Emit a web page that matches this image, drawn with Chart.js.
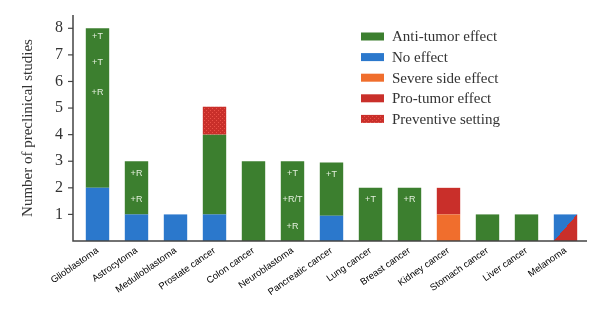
<!DOCTYPE html>
<html>
<head>
<meta charset="utf-8">
<script src="https://cdn.jsdelivr.net/npm/chart.js@4.4.0/dist/chart.umd.min.js"></script>
<style>
  html, body { margin: 0; padding: 0; background: #fff; }
</style>
</head>
<body>
<canvas id="chart" width="600" height="321"></canvas>
<script>
// Categories and stacked series (bottom to top)
const categories = ['Glioblastoma', 'Astrocytoma', 'Medulloblastoma', 'Prostate cancer', 'Colon cancer',
    'Neuroblastoma', 'Pancreatic cancer', 'Lung cancer', 'Breast cancer', 'Kidney cancer',
    'Stomach cancer', 'Liver cancer', 'Melanoma'];
const noEffect   = [2, 1, 1, 1, 0, 0, 0.95, 0, 0, 0, 0, 0, 1];
const severeSide = [0, 0, 0, 0, 0, 0, 0, 0, 0, 1, 0, 0, 0];
const antiTumor  = [6, 2, 0, 3, 3, 3, 2, 2, 2, 0, 1, 1, 0];
const proTumor   = [0, 0, 0, 0, 0, 0, 0, 0, 0, 1, 0, 0, 0];
const preventive = [0, 0, 0, 1.05, 0, 0, 0, 0, 0, 0, 0, 0, 0];
const splitCategory = 'Melanoma'; // half no effect, half pro-tumor (diagonal)

// Notes written inside the bars: [category, value, text]
const barNotes = [
    ['Glioblastoma', 7.7, '+T'], ['Glioblastoma', 6.7, '+T'], ['Glioblastoma', 5.6, '+R'],
    ['Astrocytoma', 2.55, '+R'], ['Astrocytoma', 1.55, '+R'],
    ['Neuroblastoma', 2.55, '+T'], ['Neuroblastoma', 1.55, '+R/T'], ['Neuroblastoma', 0.55, '+R'],
    ['Pancreatic cancer', 2.5, '+T'],
    ['Lung cancer', 1.55, '+T'], ['Breast cancer', 1.55, '+R']
];
const yTicks = [1, 2, 3, 4, 5, 6, 7, 8];
const legendOrder = ['Anti-tumor effect', 'No effect', 'Severe side effect', 'Pro-tumor effect', 'Preventive setting'];

const GREEN = '#3c7f2f';
const BLUE = '#2b78cc';
const ORANGE = '#f06e2d';
const RED = '#c92f2a';
const SERIF = '"Liberation Serif", "Times New Roman", serif';
const SANS = '"Liberation Sans", Arial, sans-serif';

const canvas = document.getElementById('chart');
const ctx2d = canvas.getContext('2d');

// dotted red pattern for the preventive setting
const tile = document.createElement('canvas');
tile.width = 4; tile.height = 4;
const t = tile.getContext('2d');
t.fillStyle = RED; t.fillRect(0, 0, 4, 4);
t.fillStyle = 'rgba(238,84,74,0.9)';
t.fillRect(0, 0, 1, 1); t.fillRect(2, 2, 1, 1);
const PREVENTIVE_FILL = ctx2d.createPattern(tile, 'repeat');

function noEffectColor(ctx) {
    if (ctx.type !== 'data' || categories[ctx.dataIndex] !== splitCategory) return BLUE;
    const chart = ctx.chart;
    const xs = chart.scales.x, ys = chart.scales.y;
    if (!xs || !ys || !chart.chartArea) return BLUE;
    const value = noEffect[ctx.dataIndex];
    const cx = xs.getPixelForValue(ctx.dataIndex);
    const top = ys.getPixelForValue(value), bottom = ys.getPixelForValue(0);
    const h = bottom - top;
    const w = xs.width / categories.length * 0.6;
    const cy = (top + bottom) / 2;
    const g = chart.ctx.createLinearGradient(cx - h / 2, cy - w / 2, cx + h / 2, cy + w / 2);
    g.addColorStop(0, BLUE); g.addColorStop(0.5, BLUE);
    g.addColorStop(0.5, RED); g.addColorStop(1, RED);
    return g;
}

const legendColors = {
    'Anti-tumor effect': GREEN,
    'No effect': BLUE,
    'Severe side effect': ORANGE,
    'Pro-tumor effect': RED,
    'Preventive setting': PREVENTIVE_FILL
};

const decorPlugin = {
    id: 'decor',
    afterDraw(chart) {
        const { ctx, chartArea } = chart;
        const xs = chart.scales.x, ys = chart.scales.y;
        const axisX = chartArea.left - 5;
        const base = ys.getPixelForValue(0);
        ctx.save();
        // axes
        ctx.strokeStyle = '#444';
        ctx.lineWidth = 1.5;
        ctx.beginPath();
        ctx.moveTo(axisX, chartArea.top);
        ctx.lineTo(axisX, base);
        ctx.lineTo(chartArea.right + 2, base);
        ctx.stroke();
        ctx.lineWidth = 1.2;
        for (const v of yTicks) {
            const y = ys.getPixelForValue(v);
            ctx.beginPath();
            ctx.moveTo(axisX - 5, y);
            ctx.lineTo(axisX, y);
            ctx.stroke();
        }
        // notes inside bars
        ctx.font = '9px ' + SANS;
        ctx.fillStyle = 'rgba(236,244,230,0.95)';
        ctx.textAlign = 'center';
        ctx.textBaseline = 'middle';
        for (const [cat, v, text] of barNotes) {
            ctx.fillText(text, xs.getPixelForValue(categories.indexOf(cat)), ys.getPixelForValue(v));
        }
        // legend
        ctx.font = '15px ' + SERIF;
        ctx.textAlign = 'left';
        legendOrder.forEach((name, i) => {
            const y = 36.5 + i * 20.6;
            ctx.fillStyle = legendColors[name];
            ctx.fillRect(361, y - 4, 23, 8);
            ctx.fillStyle = '#333';
            ctx.fillText(name, 392, y + 1);
        });
        ctx.restore();
    }
};

new Chart(canvas, {
    type: 'bar',
    data: {
        labels: categories,
        datasets: [
            { label: 'No effect', data: noEffect, backgroundColor: noEffectColor },
            { label: 'Severe side effect', data: severeSide, backgroundColor: ORANGE },
            { label: 'Anti-tumor effect', data: antiTumor, backgroundColor: GREEN },
            { label: 'Pro-tumor effect', data: proTumor, backgroundColor: RED },
            { label: 'Preventive setting', data: preventive, backgroundColor: PREVENTIVE_FILL }
        ]
    },
    options: {
        responsive: false,
        animation: false,
        layout: { padding: { left: 0, right: 15, top: 15, bottom: 0 } },
        datasets: { bar: { barPercentage: 0.6, categoryPercentage: 1, borderWidth: 0 } },
        plugins: { legend: { display: false }, tooltip: { enabled: false } },
        scales: {
            x: {
                stacked: true,
                grid: { display: false, drawTicks: false },
                border: { display: false },
                ticks: {
                    autoSkip: false, maxRotation: 35, minRotation: 35, padding: 4,
                    color: '#000', font: { family: SANS, size: 9.5 }
                },
                afterFit(scale) { scale.height = 80; }
            },
            y: {
                stacked: true,
                min: 0, max: 8.5,
                grid: { display: false, drawTicks: false },
                border: { display: false },
                ticks: {
                    stepSize: 1, padding: 15, color: '#333', includeBounds: false,
                    font: { family: SERIF, size: 16 },
                    callback: v => yTicks.includes(v) ? v : ''
                },
                title: {
                    display: true, text: 'Number of preclinical studies', color: '#333',
                    font: { family: SERIF, size: 15 }, padding: { top: 19, bottom: 0 }
                },
                afterFit(scale) {
                    scale.width = 78;
                    scale.paddingTop = 0;
                    scale.paddingBottom = 0;
                }
            }
        }
    },
    plugins: [decorPlugin]
});
</script>
</body>
</html>
